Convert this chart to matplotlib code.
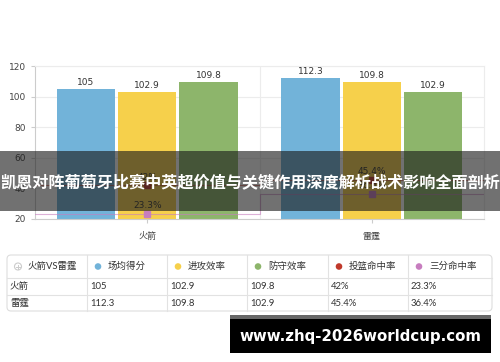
import matplotlib
matplotlib.use("Agg")
import matplotlib.pyplot as plt
import numpy as np
from matplotlib.patches import Rectangle, FancyBboxPatch, Circle

plt.rcParams['font.family'] = ['DejaVu Sans', 'Noto Sans CJK SC']

teams = ["火箭", "雷霆"]
bar_series = ["场均得分", "进攻效率", "防守效率"]
bar_values = [[105, 112.3], [102.9, 109.8], [109.8, 102.9]]
bar_colors = ["#72B3D9", "#F6D04B", "#8DB56B"]
line_series = ["投篮命中率", "三分命中率"]
line_values = [[42, 45.4], [23.3, 36.4]]
line_colors = ["#C0392B", "#C77DBF"]
table_corner = "火箭VS雷霆"
title_text = "凯恩对阵葡萄牙比赛中英超价值与关键作用深度解析战术影响全面剖析"
watermark = "www.zhq-2026worldcup.com"
yticks = [20, 40, 60, 80, 100, 120]

W, H = 500, 362
fig = plt.figure(figsize=(W / 100, H / 100), dpi=100)
fig.patch.set_facecolor("white")

ax = fig.add_axes([35 / W, 1 - 219 / H, (484 - 35) / W, (219 - 66) / H])
x = np.arange(len(teams))
width = 0.26
offsets = [-0.273, 0, 0.273]
for vals, col, off in zip(bar_values, bar_colors, offsets):
    bars = ax.bar(x + off, vals, width, color=col, zorder=2, bottom=0)
    for b, v in zip(bars, vals):
        ax.text(b.get_x() + b.get_width() / 2, v + 1.2, f"{v:g}", ha="center",
                va="bottom", fontsize=6.5, color="#333333", zorder=3)

edges = np.arange(len(teams) + 1) - 0.5
for vals, col in zip(line_values, line_colors):
    ys = list(vals) + [vals[-1]]
    ax.step(edges, ys, where="post", color=col, lw=0.8, alpha=0.6, zorder=3)
    ax.plot(x, vals, "s", color=col, ms=4, zorder=4)
    for xi, v in zip(x, vals):
        ax.text(xi, v + 2.5, f"{v:g}%", ha="center", va="bottom", fontsize=6.5,
                color="#333333", zorder=4)

ax.set_xlim(-0.5, 1.5)
ax.set_ylim(20, 120)
ax.set_yticks(yticks)
ax.set_xticks(x)
ax.set_xticklabels(teams, fontsize=6.5, color="#444444",
                   family=['Noto Sans CJK SC'])
ax.tick_params(axis="y", labelsize=6.5, colors="#444444", length=3, color="#cccccc")
ax.tick_params(axis="x", length=3, color="#cccccc", pad=6)
ax.grid(axis="y", color="#ececec", lw=0.8, zorder=0)
ax.axvline(0.5, color="#ececec", lw=0.8, zorder=0)
for s in ax.spines.values():
    s.set_color("#ececec")
    s.set_linewidth(0.8)
ax.spines["bottom"].set_color("#cccccc")
ax.spines["left"].set_color("#cccccc")

# overlay
ov = fig.add_axes([0, 0, 1, 1], zorder=10)
ov.set_xlim(0, W)
ov.set_ylim(H, 0)
ov.axis("off")
ov.patch.set_visible(False)

# title banner
ov.add_patch(Rectangle((0, 151), W, 60, color="#1a1a1a", alpha=0.62, lw=0))
ov.text(W / 2, 182, title_text, ha="center", va="center", fontsize=11.6,
        color="white", fontweight="bold", family=['Noto Sans CJK SC'])

# table
cols = [7, 87, 167, 247, 328, 408, 492]
rows = [255, 278, 295, 311]
ov.add_patch(FancyBboxPatch((cols[0], rows[0]), cols[-1] - cols[0], rows[-1] - rows[0],
                            boxstyle="round,pad=0,rounding_size=4", fc="white",
                            ec="#dddddd", lw=0.8))
for cx in cols[1:-1]:
    ov.plot([cx, cx], [rows[0], rows[-1]], color="#e2e2e2", lw=0.8)
for ry in rows[1:-1]:
    ov.plot([cols[0], cols[-1]], [ry, ry], color="#e2e2e2", lw=0.8)

tfont = ['Lato', 'Noto Sans CJK SC']
hy = (rows[0] + rows[1]) / 2
ov.add_patch(Circle((18, hy), 3.5, fc="white", ec="#cccccc", lw=0.8))
ov.plot([16, 20], [hy, hy], color="#cccccc", lw=0.7)
ov.plot([18, 18], [hy - 2, hy + 2], color="#cccccc", lw=0.7)
ov.text(27, hy, table_corner, ha="left", va="center", fontsize=6.8,
        color="#333333", family=tfont)
headers = bar_series + line_series
hcolors = bar_colors + line_colors
for i, (h, c) in enumerate(zip(headers, hcolors)):
    x0 = cols[i + 1]
    ov.add_patch(Circle((x0 + 11, hy), 3.3, fc=c, ec="none"))
    ov.text(x0 + 21, hy, h, ha="left", va="center", fontsize=6.8,
            color="#333333", family=tfont)

for r, team in enumerate(teams):
    ry = (rows[r + 1] + rows[r + 2]) / 2
    cells = [team] + [f"{bar_values[k][r]:g}" for k in range(3)] + \
            [f"{line_values[k][r]:g}%" for k in range(2)]
    for i, txt in enumerate(cells):
        ov.text(cols[i] + 3, ry, txt, ha="left", va="center", fontsize=6.8,
                color="#333333", family=tfont)

# watermark
ov.add_patch(Rectangle((230, 315), 261, 38, color="black", lw=0))
ov.add_patch(Rectangle((230, 315), 261, 4, color="#666666", lw=0))
ov.text(360, 336, watermark, ha="center", va="center", fontsize=10.8,
        color="white", fontweight="bold")

fig.savefig("out.png", dpi=100)
